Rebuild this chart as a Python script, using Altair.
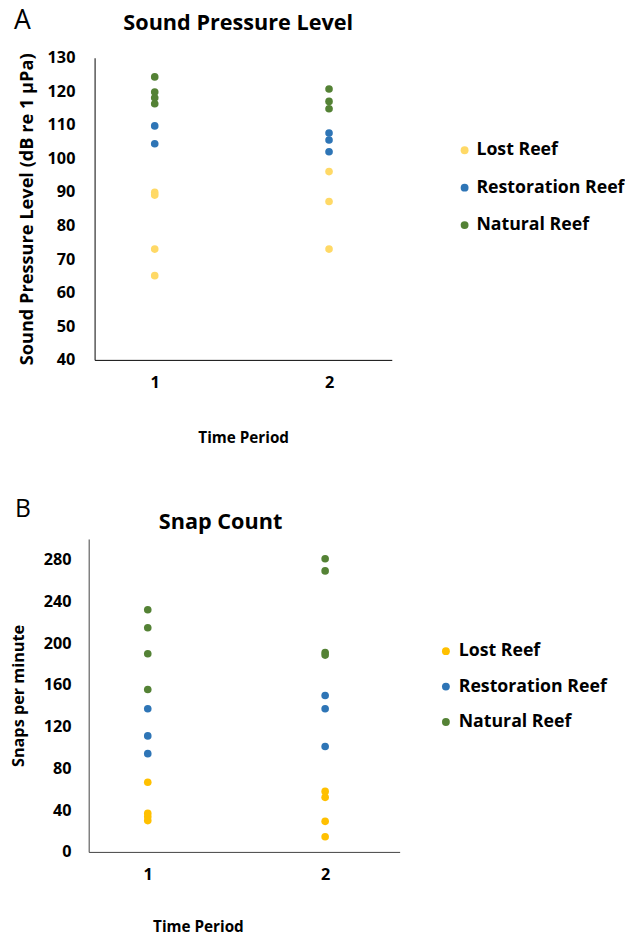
import altair as alt
import pandas as pd

FONT = "Open Sans"
reefs = ["Lost Reef", "Restoration Reef", "Natural Reef"]
periods = [1, 2]
panel_letters = ["A", "B"]
panel_titles = ["Sound Pressure Level", "Snap Count"]

# Panel A: Sound Pressure Level (dB re 1 µPa)
spl_lost = {1: [89.9, 89.1, 73.0, 65.1], 2: [96.1, 87.2, 73.0]}
spl_rest = {1: [109.7, 104.4], 2: [107.6, 105.5, 102.0]}
spl_nat = {1: [124.3, 119.8, 118.1, 116.3], 2: [120.7, 117.0, 114.8]}
spl_ticks = [40, 50, 60, 70, 80, 90, 100, 110, 120, 130]
spl_colors = ["#FFD966", "#2E75B6", "#548235"]

# Panel B: Snap count (snaps per minute)
snap_lost = {1: [66.8, 36.9, 33.7, 30.0], 2: [58.0, 52.3, 29.3, 14.5]}
snap_rest = {1: [137.3, 111.2, 94.2], 2: [150.0, 137.3, 101.1]}
snap_nat = {1: [232.2, 214.9, 190.0, 155.7], 2: [281.0, 269.4, 191.2, 188.7]}
snap_ticks = [0, 40, 80, 120, 160, 200, 240, 280]
snap_colors = ["#FFC000", "#2E75B6", "#548235"]


def build_df(series):
    rows = []
    for reef, d in zip(reefs, series):
        for p in periods:
            for v in d[p]:
                rows.append({"period": p, "value": v, "reef": reef})
    return pd.DataFrame(rows)


def invisible_rule(sx):
    return alt.Chart(pd.DataFrame({"s": [0]})).mark_rule(opacity=0).encode(
        x=alt.value(sx), x2=alt.value(sx), y=alt.value(0), y2=alt.value(1))


def panel(df, letter, title, title_x, title_y, ytitle, ytitle_size, ydomain, yticks, colors,
          width, height, xdomain, ylabpad, ytitlex, xtitley, xtitlex, legx, legy, rowpad, laboff,
          letter_x, letter_y, letter_size, domain_color, left_spacer):
    xaxis = dict(values=periods, format="d", ticks=False, grid=False, domainColor=domain_color,
                 labelFont=FONT, labelFontSize=16.5, labelFontWeight="bold", labelColor="black",
                 labelPadding=15, title="Time Period", titleFont=FONT, titleFontSize=15.5,
                 titleFontWeight="bold", titleColor="black", titleY=xtitley, titleBaseline="middle")
    if xtitlex is not None:
        xaxis["titleX"] = xtitlex
    points = alt.Chart(df).mark_circle(size=60, opacity=1).encode(
        x=alt.X("period:Q", scale=alt.Scale(domain=xdomain, nice=False, zero=False),
                axis=alt.Axis(**xaxis)),
        y=alt.Y("value:Q", scale=alt.Scale(domain=ydomain, nice=False, zero=False),
                axis=alt.Axis(values=yticks, ticks=False, grid=False, domainColor=domain_color,
                              labelFont=FONT, labelFontSize=16.5, labelFontWeight="bold",
                              labelColor="black", labelPadding=ylabpad, title=ytitle,
                              titleFont=FONT, titleFontSize=ytitle_size, titleFontWeight="bold",
                              titleColor="black", titleX=ytitlex, titleBaseline="middle")),
        color=alt.Color("reef:N", scale=alt.Scale(domain=reefs, range=colors),
                        legend=alt.Legend(title=None, orient="none", legendX=legx, legendY=legy,
                                          labelFont=FONT, labelFontSize=18, labelFontWeight="bold",
                                          labelColor="black", symbolType="circle", symbolSize=64,
                                          symbolStrokeWidth=0, labelOffset=laboff, rowPadding=rowpad)),
    )
    lab = alt.Chart(pd.DataFrame({"letter": [letter]})).mark_text(
        font=FONT, fontSize=letter_size, align="left", baseline="alphabetic", color="black"
    ).encode(text="letter:N", x=alt.value(letter_x), y=alt.value(letter_y))
    ttl = alt.Chart(pd.DataFrame({"title": [title]})).mark_text(
        font=FONT, fontSize=22, fontWeight="bold", align="center", baseline="alphabetic", color="black"
    ).encode(text="title:N", x=alt.value(title_x), y=alt.value(title_y))
    # invisible layout spacer: sets the left extent so the two panels sit offset as in the figure
    main = alt.layer(points, lab, ttl, invisible_rule(left_spacer)).properties(width=width, height=height)
    pad = invisible_rule(0).properties(width=1, height=1)
    return alt.hconcat(pad, main, spacing=0).resolve_scale(color="independent")


a = panel(build_df([spl_lost, spl_rest, spl_nat]), panel_letters[0], panel_titles[0], 146, -28,
          "Sound Pressure Level (dB re 1 μPa)", 18.5, [40, 130], spl_ticks, spl_colors,
          302, 307, [0.655, 2.36], 20, -69, 79, None, 367, 85, 20, 3, -82, -29, 27, "black", -90)
b = panel(build_df([snap_lost, snap_rest, snap_nat]), panel_letters[1], panel_titles[1], 134, -10,
          "Snaps per minute", 16.5, [0, 300], snap_ticks, snap_colors,
          316, 318, [0.667, 2.42], 18, -71, 76, 111, 354, 105, 18, 4, -75, -22, 25, "#404040", -84)

chart = alt.vconcat(a, b, spacing=52).resolve_scale(
    color="independent", x="independent", y="independent"
).configure(
    padding={"left": -3, "top": -8, "right": 0, "bottom": 2}
).configure_view(stroke=None)

chart.save("out.html", embed_options={"renderer": "svg", "actions": False})
